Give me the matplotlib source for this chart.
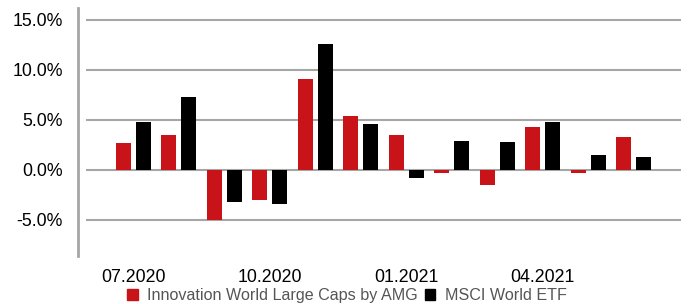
import matplotlib.pyplot as plt
import numpy as np
from matplotlib.patches import Patch
from matplotlib.ticker import FuncFormatter

months = ["07.2020", "08.2020", "09.2020", "10.2020", "11.2020", "12.2020",
          "01.2021", "02.2021", "03.2021", "04.2021", "05.2021", "06.2021"]
innovation = [2.7, 3.5, -5.0, -3.0, 9.1, 5.4, 3.5, -0.3, -1.5, 4.3, -0.3, 3.3]
msci = [4.8, 7.3, -3.2, -3.4, 12.6, 4.6, -0.8, 2.9, 2.8, 4.8, 1.5, 1.3]
series_names = ["Innovation World Large Caps by AMG", "MSCI World ETF"]

RED = "#C81418"
BLACK = "#000000"
GRID = "#A6A6A6"

plt.rcParams["font.family"] = ["Liberation Sans", "DejaVu Sans"]

W, H = 694, 304
fig = plt.figure(figsize=(W / 100, H / 100), dpi=100)
left, right, top, bottom = 86, 681, 8, 256
ax = fig.add_axes([left / W, 1 - bottom / H, (right - left) / W, (bottom - top) / H])

x = np.arange(len(months))
slot = 500 / 11  # pixels per group
bw = 15 / slot
gap = 5 / slot
ax.bar(x - (bw + gap) / 2, innovation, bw, color=RED, zorder=3)
ax.bar(x + (bw + gap) / 2, msci, bw, color=BLACK, zorder=3)

ax.set_xlim(-47.5 / slot, 11 + 47.5 / slot)
ax.set_ylim(-8.6, 16.2)
ax.set_yticks([-5, 0, 5, 10, 15])
ax.yaxis.set_major_formatter(FuncFormatter(lambda v, p: f"{v:.1f}%"))
ax.grid(axis="y", color=GRID, linewidth=1.5, zorder=0)
ax.set_axisbelow(True)

ax.set_xticks(x[::3])
ax.set_xticklabels(months[::3])

for s in ["top", "right", "bottom"]:
    ax.spines[s].set_visible(False)
ax.spines["left"].set_position(("outward", 5.8))
ax.spines["left"].set_color(GRID)
ax.spines["left"].set_linewidth(2)
ax.tick_params(axis="both", length=0, labelsize=12.8, colors="black")
ax.tick_params(axis="y", pad=11)
ax.tick_params(axis="x", pad=9.5)

handles = [Patch(color=RED), Patch(color=BLACK)]
fig.legend(handles, series_names, loc="lower center", bbox_to_anchor=(0.5, -0.035),
           ncol=2, frameon=False, fontsize=11.6, labelcolor="#555555",
           handlelength=0.65, handleheight=0.65, handletextpad=0.6,
           columnspacing=0.4, borderpad=0.2)

fig.savefig("out.png", dpi=100)
